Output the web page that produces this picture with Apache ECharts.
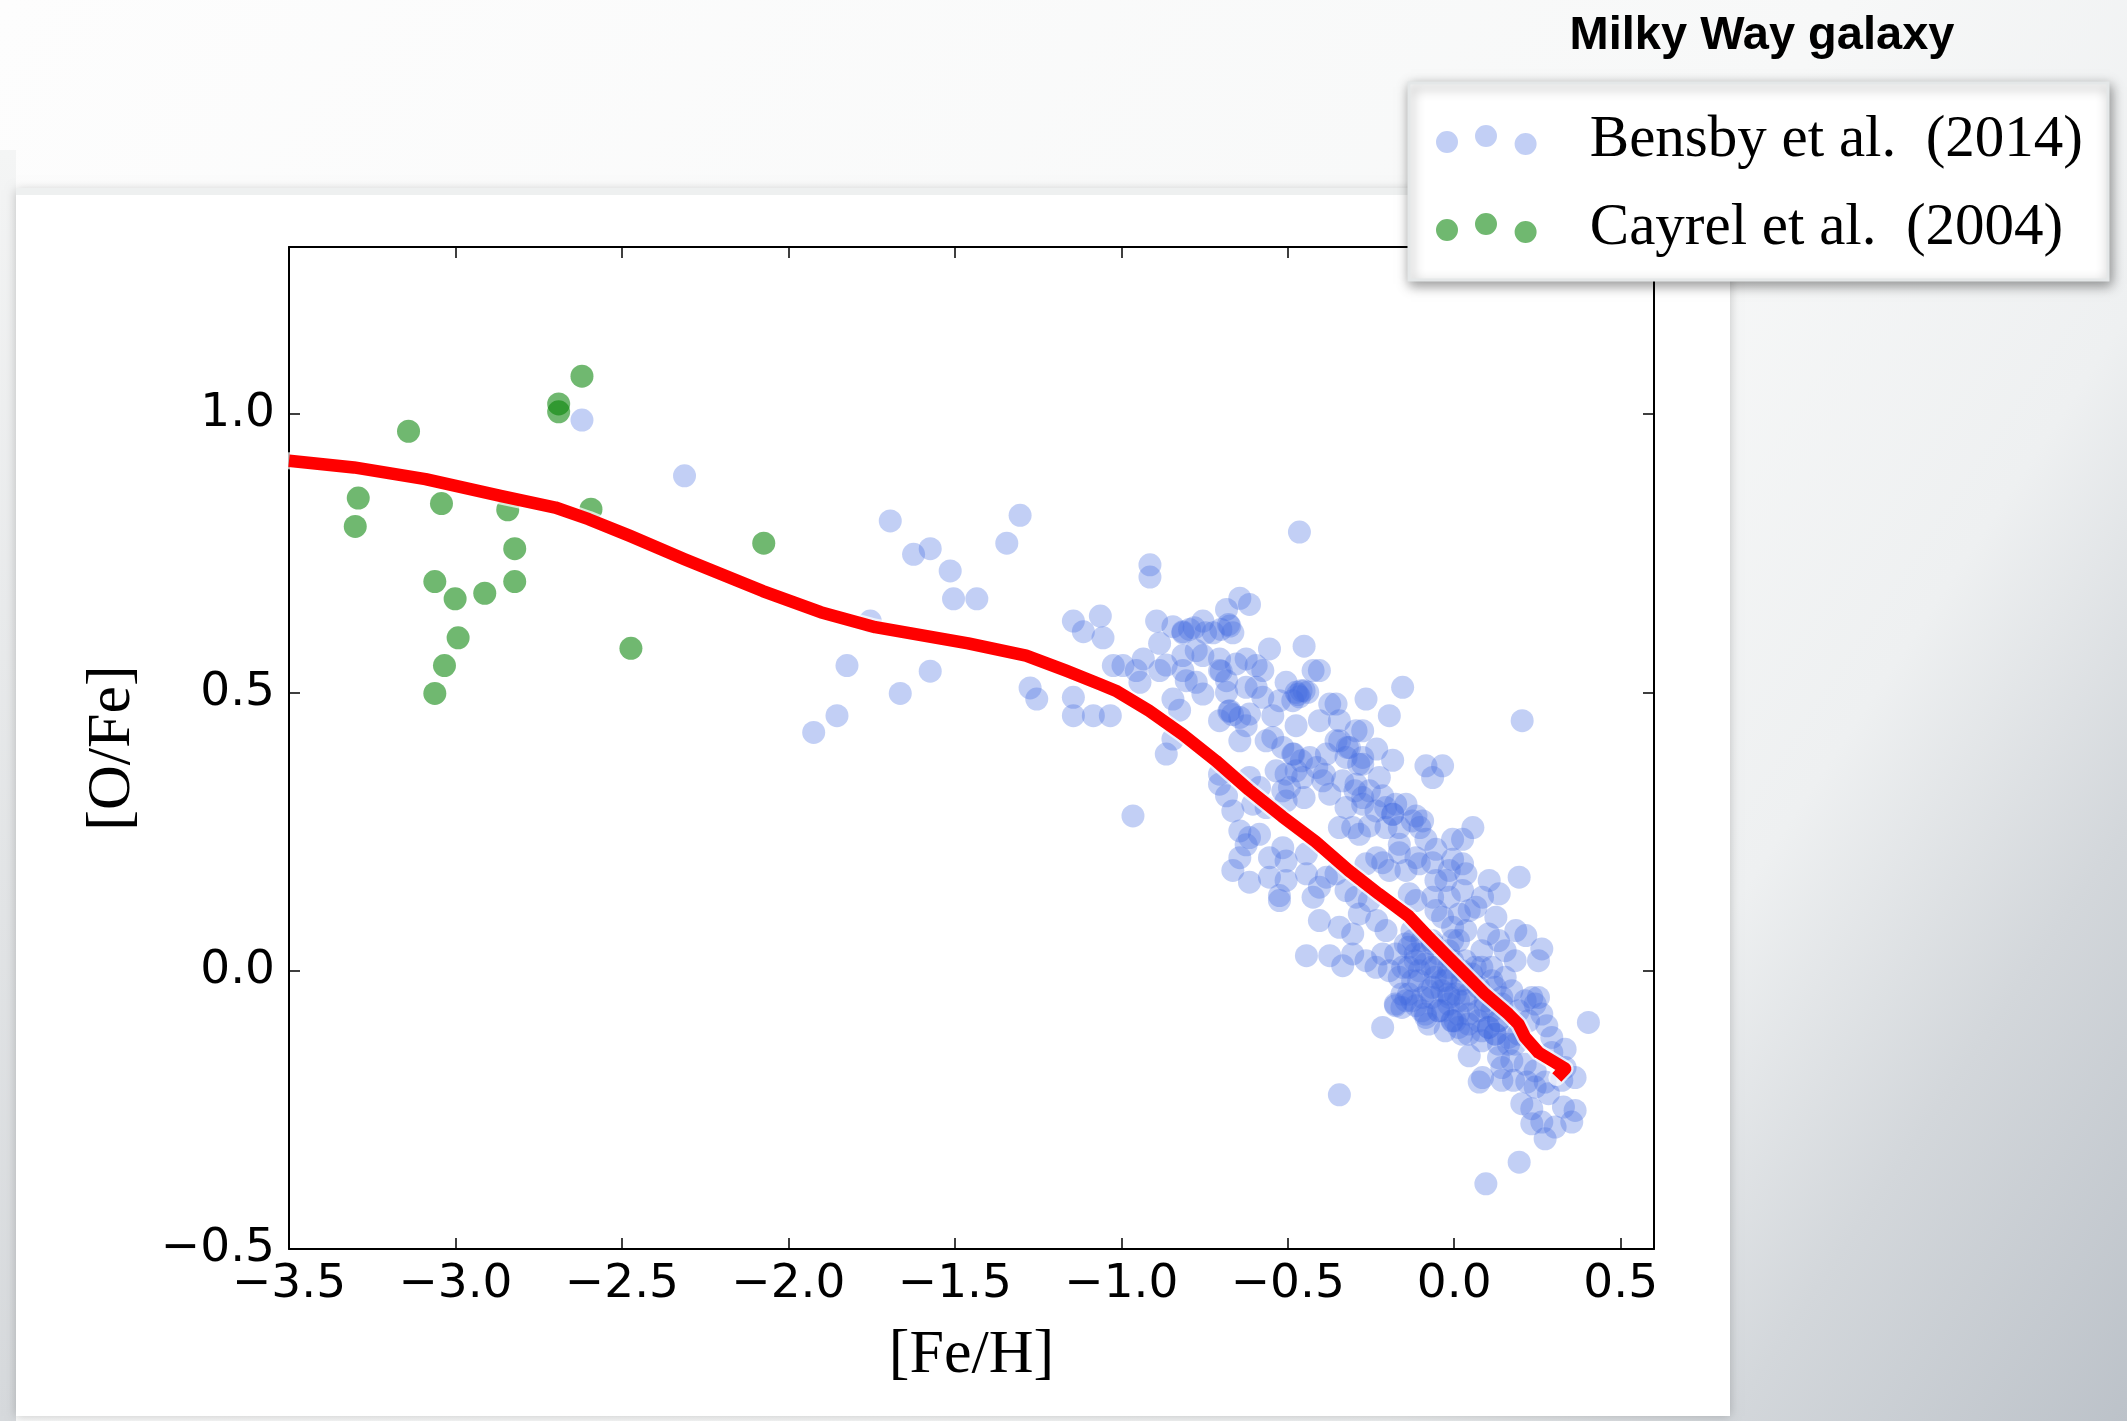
<!DOCTYPE html>
<html><head><meta charset="utf-8">
<script src="https://cdn.jsdelivr.net/npm/echarts@6/dist/echarts.min.js"></script>
<style>html,body{margin:0;padding:0;width:2127px;height:1421px;overflow:hidden;background:#fff}#c{width:2127px;height:1421px}</style>
</head><body><div id="c"></div>
<script>
// ---- tick labels ----
const xTickValues = [-3.5, -3.0, -2.5, -2.0, -1.5, -1.0, -0.5, 0.0, 0.5];
const xTickLabels = ['−3.5', '−3.0', '−2.5', '−2.0', '−1.5', '−1.0', '−0.5', '0.0', '0.5'];
const yTickValues = [-0.5, 0.0, 0.5, 1.0];
const yTickLabels = ['−0.5', '0.0', '0.5', '1.0'];

// ---- Cayrel et al. (2004) ----
const cayrel = [
  [-2.62,1.068],[-2.69,1.018],[-2.69,1.004],[-3.141,0.969],[-3.292,0.849],[-3.301,0.798],
  [-3.042,0.839],[-2.843,0.828],[-2.593,0.829],[-2.822,0.758],[-3.062,0.699],[-3.001,0.668],
  [-2.912,0.678],[-2.822,0.699],[-2.992,0.598],[-3.033,0.548],[-3.062,0.498],[-2.473,0.579],
  [-2.074,0.768]
];

// ---- Bensby et al. (2014) ----
const bensby = [
  [-2.62,0.989],[-2.312,0.889],[-1.694,0.808],[-1.624,0.748],[-1.574,0.758],[-1.514,0.718],
  [-1.504,0.668],[-1.434,0.668],[-1.304,0.818],[-1.344,0.768],[-1.754,0.628],[-1.824,0.548],
  [-1.574,0.538],[-1.664,0.498],[-1.854,0.458],[-1.924,0.428],[-1.274,0.508],[-1.254,0.488],
  [-0.914,0.729],[-0.914,0.707],[-1.144,0.628],[-1.114,0.609],[-1.063,0.637],[-1.055,0.598],
  [-0.894,0.628],[-0.885,0.588],[-1.024,0.548],[-0.995,0.548],[-0.955,0.539],[-0.934,0.560],
  [-0.944,0.518],[-0.885,0.539],[-0.865,0.549],[-0.845,0.618],[-0.815,0.609],[-0.795,0.613],
  [-0.755,0.628],[-0.724,0.607],[-0.684,0.649],[-0.644,0.669],[-0.615,0.658],[-0.674,0.619],
  [-0.665,0.607],[-0.815,0.566],[-0.775,0.575],[-0.755,0.566],[-0.815,0.539],[-0.805,0.521],
  [-0.775,0.518],[-0.755,0.497],[-0.845,0.488],[-0.825,0.468],[-0.705,0.560],[-0.705,0.539],
  [-0.684,0.521],[-0.684,0.500],[-0.674,0.467],[-0.705,0.449],[-0.644,0.455],[-0.644,0.413],
  [-0.625,0.440],[-0.615,0.461],[-0.655,0.551],[-0.625,0.560],[-0.595,0.548],[-0.575,0.539],
  [-0.625,0.509],[-0.595,0.509],[-0.575,0.491],[-0.555,0.578],[-0.545,0.458],[-0.505,0.518],
  [-0.475,0.500],[-0.485,0.485],[-0.525,0.485],[-0.565,0.413],[-0.545,0.419],[-0.515,0.401],
  [-0.475,0.440],[-0.485,0.389],[-0.475,0.359],[-0.505,0.353],[-0.535,0.359],[-0.495,0.329],
  [-0.505,0.305],[-0.585,0.329],[-0.565,0.293],[-0.605,0.299],[-1.144,0.491],[-1.144,0.458],
  [-1.084,0.458],[-1.033,0.458],[-0.845,0.416],[-0.865,0.389],[-0.965,0.278],[-0.705,0.353],
  [-0.705,0.335],[-0.684,0.314],[-0.665,0.287],[-0.644,0.251],[-0.615,0.239],[-0.585,0.245],
  [-0.615,0.347],[-0.515,0.323],[-0.46,0.503],[-0.44,0.500],[-0.465,0.788],
  [-0.451,0.583],[-0.424,0.539],[-0.405,0.539],[-0.265,0.488],[-0.155,0.509],[-0.195,0.458],
  [0.204,0.449],[-0.451,0.503],[-0.374,0.479],[-0.355,0.479],[-0.405,0.449],[-0.345,0.449],
  [-0.295,0.431],[-0.275,0.431],[-0.355,0.413],[-0.315,0.401],[-0.233,0.398],[-0.185,0.378],
  [-0.085,0.368],[-0.035,0.368],[-0.065,0.347],[-0.434,0.383],[-0.384,0.389],[-0.325,0.383],
  [-0.275,0.371],[-0.225,0.347],[-0.455,0.347],[-0.395,0.341],[-0.335,0.341],[-0.295,0.335],
  [-0.255,0.323],[-0.215,0.314],[-0.374,0.317],[-0.451,0.311],[-0.325,0.293],[-0.275,0.299],
  [-0.235,0.287],[-0.176,0.299],[-0.145,0.299],[-0.115,0.278],[-0.095,0.269],[-0.185,0.281],
  [-0.165,0.257],[-0.205,0.257],[-0.255,0.260],[-0.305,0.257],[-0.345,0.257],[-0.285,0.245],
  [0.056,0.257],[-0.005,0.236],[0.025,0.236],[-0.085,0.236],[-0.055,0.218],[-0.165,0.227],
  [-0.165,0.212],[-0.115,0.203],[-0.233,0.203],[-0.215,0.194],[-0.265,0.192],[-0.195,0.180],
  [-0.145,0.180],[-0.105,0.192],[-0.065,0.194],[-0.005,0.200],[0.025,0.192],[-0.015,0.180],
  [0.035,0.174],[-0.025,0.162],[-0.055,0.162],[0.105,0.162],[0.195,0.168],[0.135,0.138],
  [0.085,0.132],[0.025,0.144],[-0.015,0.132],[-0.065,0.132],[-0.115,0.126],[-0.135,0.138],
  [-0.055,0.108],[-0.035,0.096],[0.015,0.102],[0.045,0.108],[0.065,0.114],[0.125,0.096],
  [0.185,0.072],[0.215,0.063],[0.035,0.072],[-0.005,0.078],[-0.444,0.210],[-0.444,0.174],
  [-0.384,0.168],[-0.355,0.174],[-0.405,0.150],[-0.424,0.132],[-0.325,0.144],[-0.295,0.132],
  [-0.255,0.126],[-0.285,0.102],[-0.405,0.090],[-0.345,0.078],[-0.233,0.090],[-0.205,0.072],
  [-0.305,0.066],
  [-0.625,0.226],[-0.644,0.203],[-0.665,0.180],[-0.615,0.159],[-0.555,0.203],[-0.505,0.197],
  [-0.515,0.221],[-0.555,0.168],[-0.505,0.162],[-0.525,0.135],[-0.525,0.126],[-0.444,0.027],
  [-0.374,0.027],[-0.335,0.009],[-0.305,0.030],[-0.265,0.018],[-0.235,0.006],[-0.215,0.030],
  [-0.195,0.000],[-0.176,0.030],[-0.176,-0.063],[-0.215,-0.102],[-0.155,0.006],[-0.145,-0.054],
  [-0.115,-0.063],[-0.085,-0.084],[-0.125,0.054],[-0.095,0.030],[-0.055,0.006],[-0.025,-0.018],
  [-0.065,-0.030],[-0.015,-0.048],[-0.005,-0.090],[-0.035,-0.072],[-0.095,-0.048],[-0.125,-0.018],
  [-0.165,-0.012],[-0.105,0.000],[-0.005,0.018],[-0.065,0.048],[-0.005,0.054],[-0.345,-0.223],
  [0.045,-0.153],[0.075,-0.200],[0.085,-0.192],[0.095,-0.383],[0.195,-0.344],[0.273,-0.302],
  [0.303,-0.281],[0.353,-0.272],[0.363,-0.251],[0.328,-0.245],[0.263,-0.272],[0.233,-0.248],
  [0.203,-0.239],[0.243,-0.209],[0.283,-0.221],[0.273,-0.200],[0.218,-0.200],[0.178,-0.197],
  [0.143,-0.174],[0.133,-0.156],[0.173,-0.162],[0.213,-0.168],[0.243,-0.180],[0.323,-0.197],
  [0.363,-0.192],[0.333,-0.174],[0.333,-0.141],[0.293,-0.147],[0.293,-0.120],[0.278,-0.099],
  [0.263,-0.078],[0.243,-0.060],[0.233,-0.048],[0.213,-0.054],[0.253,-0.048],[0.193,-0.072],
  [0.223,-0.090],[0.193,-0.114],[0.163,-0.132],[0.403,-0.093],[0.253,0.018],[0.263,0.039],
  [0.183,0.018],[0.153,0.036],[0.133,0.054],[0.113,0.006],[0.153,-0.012],[0.173,-0.036],
  [0.123,-0.030],[0.143,-0.060],[0.113,-0.072],[0.093,-0.054],[0.073,-0.030],[0.053,-0.006],
  [0.033,0.018],[0.073,-0.072],[0.103,-0.102],[0.123,-0.114],[0.133,-0.090],[0.083,-0.108],
  [0.033,-0.054],[0.023,-0.024],[0.043,-0.096],[0.013,-0.078],[0.063,0.006],[0.083,0.036],
  [0.103,0.066],[0.233,-0.275],[0.143,-0.197],
  [-0.137,0.042],[-0.117,0.018],[-0.067,0.006],[-0.037,-0.018],[-0.017,-0.042],[0.013,-0.054],
  [0.043,-0.078],[0.073,-0.090],[0.103,-0.102],[0.123,-0.114],[0.003,-0.090],[-0.047,-0.072],
  [-0.087,-0.078],[-0.127,-0.054],[-0.157,-0.042],[-0.177,-0.060],[-0.077,-0.036],[0.023,-0.018],
  [0.083,0.006],[0.113,-0.018],[0.143,-0.048],[0.093,-0.066],[0.043,-0.042],[-0.017,0.006],
  [-0.047,0.030],[-0.097,0.054],[0.133,-0.090],[0.163,-0.120],[0.183,-0.132],[0.133,-0.132],
  [0.083,-0.126],[0.043,-0.114],[0.013,-0.102],
  [-0.147,0.048],[-0.117,0.030],[-0.137,0.006],[-0.087,0.012],[-0.057,-0.012],[-0.107,-0.018],
  [-0.037,-0.036],[-0.067,-0.048],[-0.017,-0.060],[0.003,-0.042],[-0.047,-0.072],[-0.007,-0.090],
  [-0.027,-0.108],[0.023,-0.114],[-0.137,-0.042],[-0.157,-0.066],[-0.097,-0.072],[-0.077,-0.096],
  [-0.127,0.072],[-0.067,0.054],[-0.017,0.036],[0.013,0.054],[0.023,0.000],[-0.017,-0.006],
  [-0.815,0.607],[-0.781,0.616],[-0.747,0.607],[-0.701,0.613],[-0.678,0.622],[-0.470,0.496],
  [-0.465,0.492],[-0.700,0.538],[-0.677,0.466],[-0.666,0.460],[-0.344,0.413],[-0.321,0.401],
  [-0.275,0.383],[-0.287,0.371],[-0.482,0.389],[-0.459,0.377],[-0.413,0.365],[-0.390,0.353],
  [-0.298,0.323],[-0.275,0.311],[-0.206,0.293],[-0.184,0.281],[-0.126,0.269],[-0.103,0.257]
];

// ---- model curve ----
const model = [
  [-3.5,0.916],[-3.305,0.904],[-3.09,0.883],[-2.865,0.853],[-2.70,0.832],[-2.60,0.811],
  [-2.476,0.781],[-2.312,0.739],[-2.077,0.682],[-1.903,0.644],[-1.739,0.617],[-1.46,0.588],
  [-1.286,0.566],[-1.166,0.539],[-1.066,0.515],[-1.017,0.503],[-0.917,0.467],[-0.817,0.425],
  [-0.716,0.377],[-0.617,0.325],[-0.517,0.277],[-0.417,0.232],[-0.317,0.180],[-0.227,0.138],
  [-0.137,0.098],[-0.08,0.062],[-0.017,0.024],[0.033,-0.006],[0.093,-0.042],[0.163,-0.078],
  [0.193,-0.096],[0.213,-0.120],[0.253,-0.147],[0.303,-0.165],[0.333,-0.176],[0.308,-0.192]
];

function lookup(vals, labels) {
  return function (v) {
    for (let i = 0; i < vals.length; i++) if (Math.abs(vals[i] - v) < 1e-6) return labels[i];
    return '';
  };
}

const chart = echarts.init(document.getElementById('c'), null, {renderer: 'canvas', width: 2127, height: 1421});

const black = '#000';
const tickFont = {fontFamily: 'DejaVu Sans', fontSize: 47, color: black};
const nameFont = {fontFamily: 'Liberation Serif', fontSize: 62, color: black};
const lineCommon = {show: true, onZero: false, lineStyle: {color: black, width: 2}};
const tickCommon = {show: true, inside: true, length: 11, lineStyle: {color: black, width: 1.5}};

const option = {
  animation: false,
  graphic: {
    elements: [
      {type: 'rect', z: -100, silent: true, shape: {x: 0, y: 0, width: 2127, height: 1421},
        style: {fill: {type: 'linear', x: 0, y: 0, x2: 1, y2: 1, colorStops: [
          {offset: 0, color: '#fdfdfd'}, {offset: 0.6, color: '#f7f8f8'},
          {offset: 0.76, color: '#eef0f1'}, {offset: 0.87, color: '#d3d7db'},
          {offset: 1, color: '#bcc2c9'}]}}},
      {type: 'rect', z: -99, silent: true, shape: {x: 0, y: 150, width: 16, height: 1271},
        style: {fill: {type: 'linear', x: 0, y: 0, x2: 0, y2: 1, colorStops: [
          {offset: 0, color: '#f4f5f5'}, {offset: 1, color: '#d6d9dc'}]}}},
      {type: 'rect', z: -90, silent: true, shape: {x: 16, y: 190, width: 1714, height: 1226},
        style: {fill: '#ffffff', shadowBlur: 10, shadowColor: 'rgba(0,0,0,0.22)'}},
      {type: 'rect', z: -89, silent: true, shape: {x: 16, y: 188, width: 1714, height: 7},
        style: {fill: '#eef0f0'}}
    ]
  },
  title: {
    text: 'Milky Way galaxy', left: 1757, top: 8, textAlign: 'center',
    textStyle: {fontFamily: 'Liberation Sans', fontWeight: 'bold', fontSize: 47, color: black}
  },
  legend: {
    data: ['Bensby et al.  (2014)', 'Cayrel et al.  (2004)'],
    orient: 'vertical', left: 1409, top: 83,
    padding: [27, 25, 22, 27],
    itemWidth: 101, itemHeight: 30, itemGap: 28,
    icon: 'path://M0,17a11,11 0 1,0 22,0a11,11 0 1,0 -22,0ZM39,11a11,11 0 1,0 22,0a11,11 0 1,0 -22,0ZM78.6,19a11,11 0 1,0 22,0a11,11 0 1,0 -22,0Z',
    selectedMode: false,
    backgroundColor: '#ffffff', borderColor: '#e4e7e8', borderWidth: 3,
    shadowBlur: 12, shadowColor: 'rgba(0,0,0,0.4)', shadowOffsetX: 2, shadowOffsetY: 4,
    itemStyle: {borderWidth: 0},
    textStyle: {fontFamily: 'Liberation Serif', fontSize: 59, color: black, lineHeight: 60, padding: [0, 0, 0, 48]}
  },
  grid: {left: 289, top: 247, width: 1365, height: 1002, containLabel: false},
  xAxis: [
    {type: 'value', min: -3.5, max: 0.6, interval: 0.5, position: 'bottom',
      name: '[Fe/H]', nameLocation: 'middle', nameGap: 76, nameTextStyle: nameFont,
      axisLine: lineCommon, axisTick: tickCommon,
      axisLabel: Object.assign({show: true, margin: 12, formatter: lookup(xTickValues, xTickLabels)}, tickFont),
      splitLine: {show: false}},
    {type: 'value', min: -3.5, max: 0.6, interval: 0.5, position: 'top',
      axisLine: lineCommon, axisTick: tickCommon, axisLabel: {show: false}, splitLine: {show: false}}
  ],
  yAxis: [
    {type: 'value', min: -0.5, max: 1.3, interval: 0.5, position: 'left',
      name: '[O/Fe]', nameLocation: 'middle', nameGap: 145, nameTextStyle: nameFont,
      axisLine: lineCommon, axisTick: tickCommon,
      axisLabel: Object.assign({show: true, margin: 14, formatter: lookup(yTickValues, yTickLabels)}, tickFont),
      splitLine: {show: false}},
    {type: 'value', min: -0.5, max: 1.3, interval: 0.5, position: 'right',
      axisLine: lineCommon, axisTick: tickCommon, axisLabel: {show: false}, splitLine: {show: false}}
  ],
  series: [
    {name: 'Bensby et al.  (2014)', type: 'scatter', data: bensby, symbol: 'circle', symbolSize: 23,
      itemStyle: {color: 'rgba(65,105,225,0.4)'}, z: 2, silent: true},
    {name: 'Cayrel et al.  (2004)', type: 'scatter', data: cayrel, symbol: 'circle', symbolSize: 23,
      itemStyle: {color: 'rgba(0,128,0,0.7)'}, z: 3, silent: true},
    {name: 'halo', type: 'line', data: model, showSymbol: false, symbol: 'none', z: 4, silent: true,
      lineStyle: {color: 'rgba(255,255,255,0.72)', width: 17, join: 'round', cap: 'round'}},
    {name: 'model', type: 'line', data: model, showSymbol: false, symbol: 'none', z: 5, silent: true,
      lineStyle: {color: '#ff0000', width: 12.5, join: 'round', cap: 'butt'}}
  ]
};
chart.setOption(option);
</script>
</body></html>
